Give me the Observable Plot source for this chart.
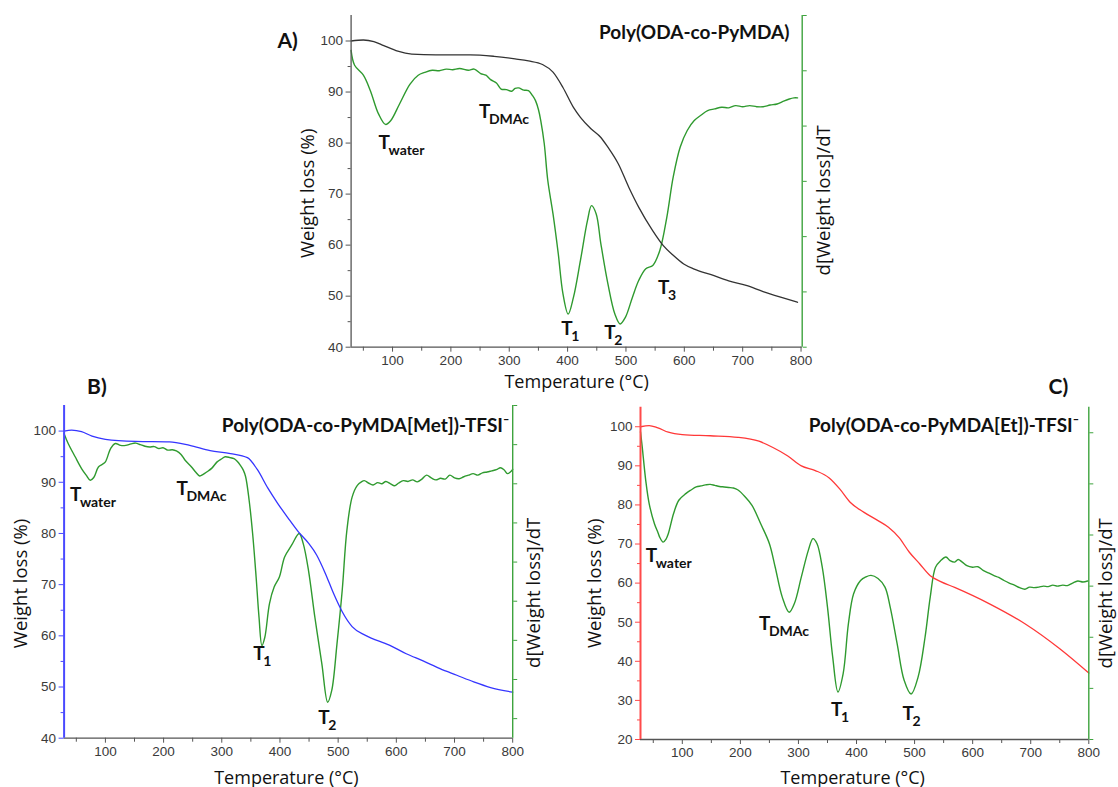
<!DOCTYPE html>
<html><head><meta charset="utf-8">
<script src="https://cdn.jsdelivr.net/npm/d3@7"></script>
<script src="https://cdn.jsdelivr.net/npm/@observablehq/plot@0.6"></script>
<style>
body{margin:0;background:#fff}
#root{position:relative;width:1118px;height:787px;overflow:hidden;background:#fff}
.panel{position:absolute}
</style>
</head><body><div id="root"></div>
<script>
// ---------- shared ticks ----------
const tempTicks = [100, 200, 300, 400, 500, 600, 700, 800];
const tempMinor = [50, 150, 250, 350, 450, 550, 650, 750];
const yTicksAB = [40, 50, 60, 70, 80, 90, 100];
const yMinorAB = [45, 55, 65, 75, 85, 95];
const yTicksC = [20, 30, 40, 50, 60, 70, 80, 90, 100];
const yMinorC = [25, 35, 45, 55, 65, 75, 85, 95];

// ---------- Panel A: Poly(ODA-co-PyMDA) ----------
const aWeightT = [29,50,68,85,109,133,174,233,274,310,333,357,375,392,410,422,440,457,469,487,505,522,546,564,581,599,617,646,676,706,735,765,794];
const aWeightV = [100,100.2,99.9,99.1,98.0,97.45,97.3,97.3,97.0,96.5,96.1,95.4,93.9,90.9,87.0,85.05,82.8,81.1,79.2,75.9,71.3,67.4,62.8,59.9,58.0,56.3,55.3,54.2,53.0,52.1,50.9,49.8,48.8];
const aDerivT = [29,35,50,62,76,88,97,112,130,144,155,168,180,192,203,215,230,240,251,260,268,278,286,295,304,310,316,325,333,340,345,350,354,360,366,375,384,392,401,410,422,434,441,449,457,469,481,490,499,511,522,534,546,558,570,581,593,605,617,629,640,652,664,676,688,700,712,724,735,747,759,770,780,788,794];
const aDerivV = [5.37,5.10,4.92,4.64,4.22,4.03,4.10,4.40,4.76,4.92,4.97,5.01,5.00,5.03,5.02,5.04,5.01,5.03,4.95,4.92,4.84,4.78,4.67,4.66,4.63,4.68,4.69,4.65,4.64,4.55,4.46,4.30,4.10,3.68,3.02,2.41,1.69,0.97,0.60,0.90,1.57,2.29,2.56,2.41,1.87,1.15,0.60,0.42,0.54,0.90,1.21,1.42,1.48,1.75,2.35,3.08,3.62,3.92,4.10,4.20,4.28,4.31,4.34,4.33,4.37,4.35,4.37,4.35,4.35,4.38,4.40,4.45,4.49,4.51,4.51];
const aDerivTicks = [0,1,2,3,4,5,6];
const aNoteT = [76, 248, 389, 463, 555];
const aNoteW = [78.8, 85.0, 42.3, 41.6, 50.4];
const aNoteSub = ["water", "DMAc", "1", "2", "3"];

// ---------- Panel B: Poly(ODA-co-PyMDA[Met])-TFSI- ----------
const bWeightT = [29,42,59,77,100,152,210,245,280,315,344,361,379,396,414,431,449,463,478,492,507,524,547,588,617,646,675,704,733,762,800];
const bWeightV = [100,100.2,99.9,99.0,98.4,98.0,97.9,97.2,96.2,95.6,94.8,92.5,88.9,85.9,83.0,80.4,78.1,75.8,72.2,68.3,64.7,61.8,60.1,58.2,56.5,55.1,53.6,52.3,51.0,49.9,49.0];
const bDerivT = [29,36,48,59,67,74,80,88,95,100,109,117,126,135,144,152,160,168,176,184,192,199,207,215,222,230,237,248,255,262,268,274,283,292,300,306,314,321,326,332,337,341,347,353,359,364,369,374,382,390,399,408,420,433,440,449,460,472,482,489,498,507,515,524,533,540,545,552,560,568,575,582,590,597,604,612,620,628,636,644,652,660,668,676,684,692,700,708,716,724,732,740,748,756,764,772,779,785,791,796,800];
const bDerivV = [7.28,7.03,6.69,6.39,6.22,6.09,6.16,6.43,6.50,6.56,6.90,7.03,6.98,6.98,7.02,7.04,7.00,6.96,6.94,6.95,6.90,6.92,6.86,6.87,6.84,6.75,6.60,6.43,6.30,6.20,6.24,6.30,6.40,6.56,6.64,6.69,6.67,6.64,6.58,6.47,6.35,6.18,5.58,4.73,3.62,2.59,1.87,2.08,2.94,3.36,3.62,4.13,4.43,4.73,4.47,3.79,2.59,1.40,0.42,0.72,1.91,3.28,4.81,5.66,5.96,6.05,6.08,6.02,5.97,6.03,6.00,6.06,6.00,5.95,6.02,6.08,6.06,6.10,6.05,6.12,6.22,6.15,6.10,6.14,6.12,6.22,6.15,6.13,6.18,6.22,6.26,6.22,6.28,6.30,6.33,6.36,6.41,6.36,6.26,6.30,6.37];
const bDerivTicks = [0,1,2,3,4,5,6,7,8];
const bNoteT = [39, 222, 354, 466];
const bNoteW = [86.3, 87.6, 55.2, 42.8];
const bNoteSub = ["water", "DMAc", "1", "2"];

// ---------- Panel C: Poly(ODA-co-PyMDA[Et])-TFSI- ----------
const cWeightT = [28,43,58,76,100,148,196,232,256,281,305,329,353,371,389,413,437,455,473,491,509,527,545,569,629,690,750,800];
const cWeightV = [100,100.3,99.7,98.6,98.0,97.7,97.3,96.3,94.7,92.6,90.0,88.8,86.9,84.1,80.7,78.1,76.0,74.3,71.7,67.9,64.9,61.9,60.4,58.9,54.7,49.6,43.2,37.0];
const cDerivT = [28,31,37,43,52,58,61,67,72,76,85,94,106,115,124,132,140,148,156,164,172,180,188,196,208,220,235,250,260,272,284,293,305,317,325,332,341,350,359,368,377,386,395,407,416,425,437,449,458,470,482,494,506,518,527,536,545,554,561,569,575,582,590,600,609,618,627,636,645,654,663,672,681,690,698,706,714,722,730,738,746,755,763,772,781,790,798];
const cDerivV = [6.02,5.72,5.07,4.61,4.22,4.05,3.96,3.86,3.92,4.03,4.42,4.68,4.81,4.88,4.94,4.96,4.98,4.99,4.97,4.95,4.94,4.93,4.92,4.88,4.75,4.58,4.22,3.83,3.37,2.79,2.49,2.66,3.18,3.70,3.93,3.83,3.37,2.59,1.61,0.93,1.29,2.26,2.85,3.11,3.18,3.21,3.15,2.98,2.59,1.87,1.16,0.89,1.22,2.00,2.79,3.37,3.50,3.57,3.50,3.47,3.52,3.47,3.40,3.37,3.38,3.31,3.26,3.21,3.17,3.11,3.06,3.02,2.97,2.94,2.98,2.97,2.98,3.00,2.99,3.02,3.00,3.02,3.01,3.06,3.10,3.08,3.10];
const cDerivTicks = [0,1,2,3,4,5,6];
const cNoteT = [37, 232, 356, 479];
const cNoteW = [65.3, 48.0, 26.1, 24.9];
const cNoteSub = ["water", "DMAc", "1", "2"];

const GREEN = "#2f9a2f";
const AXISGREEN = "#3ea33e";
const LABELFONT = "'Open Sans', 'DejaVu Sans', sans-serif";
const BOLDFONT = "Lato, 'Open Sans', sans-serif";

function panel(p) {
  const [y0, y1] = p.yDomain, [r0, r1] = p.rDomain;
  const toY = r => y0 + (r - r0) / (r1 - r0) * (y1 - y0);
  const weight = p.weightT.map((t, i) => ({t, v: p.weightV[i]}));
  const deriv = p.derivT.map((t, i) => ({t, v: toY(p.derivV[i])}));
  const notes = p.noteT.map((t, i) => ({t, w: p.noteW[i], sub: p.noteSub[i]}));
  const txt = d => d;
  const chart = Plot.plot({
    width: p.width, height: p.height,
    marginLeft: p.mL, marginRight: p.mR, marginTop: p.mT, marginBottom: p.mB,
    x: {domain: p.xDomain, axis: null},
    y: {domain: p.yDomain, axis: null},
    style: {fontFamily: "'Liberation Sans', Arial, sans-serif", fontSize: "13.5px", color: "#333", background: "transparent", overflow: "visible"},
    marks: [
      Plot.line(deriv, {x: "t", y: "v", stroke: GREEN, strokeWidth: 1.4, curve: "catmull-rom"}),
      Plot.line(weight, {x: "t", y: "v", stroke: p.weightColor, strokeWidth: 1.3, curve: "monotone-x"}),
      Plot.axisX({ticks: tempTicks, tickSize: 5, tickPadding: 3, stroke: "#555", fill: "#3a3a3a", label: null}),
      Plot.axisX({ticks: tempMinor, tickSize: 4, tickFormat: () => "", stroke: "#555", label: null}),
      Plot.axisY({ticks: p.yTicks, tickSize: 5, tickPadding: 3, stroke: p.axisColor, fill: "#3a3a3a", label: null}),
      Plot.axisY({ticks: p.yMinor, tickSize: 3, tickFormat: () => "", stroke: p.axisColor, label: null}),
      Plot.axisY({ticks: p.rTicks.map(toY), anchor: "right", tickSize: 4, tickFormat: () => "", stroke: AXISGREEN, label: null}),
      Plot.ruleY([y0], {stroke: "#555", strokeWidth: 1.3}),
      Plot.ruleX([p.xDomain[0]], {stroke: p.axisColor, strokeWidth: p.axisWidth}),
      Plot.ruleX([p.xDomain[1]], {stroke: AXISGREEN, strokeWidth: 1.4}),
      Plot.text(notes, {x: "t", y: "w", text: () => "T", textAnchor: "start", lineAnchor: "bottom", fontSize: 19, fontWeight: "bold", fontFamily: BOLDFONT, fill: "#111"}),
      Plot.text(notes, {x: "t", y: "w", text: "sub", textAnchor: "start", lineAnchor: "bottom", dx: 10, dy: 6, fontSize: 14, fontWeight: "bold", fontFamily: BOLDFONT, fill: "#111"}),
      Plot.text([p.title], {text: txt, frameAnchor: "top-right", textAnchor: "end", lineAnchor: "bottom", dx: p.titleDx, dy: p.titleDy, fontSize: 19, fontWeight: "bold", fontFamily: BOLDFONT, fill: "#111"}),
      Plot.text([p.letter], {text: txt, frameAnchor: "top-left", textAnchor: "start", lineAnchor: "bottom", dx: p.letterDx, dy: p.letterDy, fontSize: 21, fontWeight: "bold", fontFamily: BOLDFONT, fill: "#111"}),
      Plot.text(["Weight loss (%)"], {text: txt, frameAnchor: "left", textAnchor: "middle", lineAnchor: "middle", rotate: -90, dx: p.ylDx, dy: p.ylDy, fontSize: 18.5, fontFamily: LABELFONT, fill: "#111"}),
      Plot.text(["Temperature (°C)"], {text: txt, frameAnchor: "bottom", textAnchor: "middle", lineAnchor: "bottom", dx: p.xlDx, dy: p.xlDy, fontSize: 18, fontFamily: LABELFONT, fill: "#111"}),
      Plot.text(["d[Weight loss]/dT"], {text: txt, frameAnchor: "right", textAnchor: "middle", lineAnchor: "middle", rotate: -90, dx: p.rlDx, dy: p.rlDy, fontSize: 18.5, fontFamily: LABELFONT, fill: "#111"})
    ]
  });
  chart.classList.add("panel");
  chart.style.left = p.left + "px";
  chart.style.top = p.top + "px";
  document.getElementById("root").appendChild(chart);
}

panel({
  left: 260, top: 0, width: 600, height: 395, mL: 90.6, mR: 58.3, mT: 15, mB: 48.3,
  xDomain: [29, 802], yDomain: [40, 105], rDomain: [0, 6],
  yTicks: yTicksAB, yMinor: yMinorAB, rTicks: aDerivTicks,
  weightT: aWeightT, weightV: aWeightV, derivT: aDerivT, derivV: aDerivV,
  noteT: aNoteT, noteW: aNoteW, noteSub: aNoteSub,
  weightColor: "#333", axisColor: "#555", axisWidth: 1.3,
  title: "Poly(ODA-co-PyMDA)", titleDx: -12.7, titleDy: 23.3,
  letter: "A)", letterDx: -73.6, letterDy: 32,
  ylDx: -43, ylDy: 12, xlDx: 0, xlDy: 41, rlDx: 22.3, rlDy: 19
});

panel({
  left: 0, top: 365, width: 560, height: 422, mL: 63.6, mR: 47.8, mT: 40, mB: 49.3,
  xDomain: [29, 800], yDomain: [40, 105], rDomain: [-0.5, 8],
  yTicks: yTicksAB, yMinor: yMinorAB, rTicks: bDerivTicks,
  weightT: bWeightT, weightV: bWeightV, derivT: bDerivT, derivV: bDerivV,
  noteT: bNoteT, noteW: bNoteW, noteSub: bNoteSub,
  weightColor: "#3535ff", axisColor: "#4a4aff", axisWidth: 2,
  title: "Poly(ODA-co-PyMDA[Met])-TFSI\u207B", titleDx: -3.4, titleDy: 26.7,
  letter: "B)", letterDx: 23, letterDy: -12,
  ylDx: -43.3, ylDy: 11.6, xlDx: -2, xlDy: 45.3, rlDx: 21.8, rlDy: 21
});

panel({
  left: 570, top: 365, width: 548, height: 422, mL: 70, mR: 29.7, mT: 41.7, mB: 48,
  xDomain: [28, 800], yDomain: [20, 105], rDomain: [0, 6.5],
  yTicks: yTicksC, yMinor: yMinorC, rTicks: cDerivTicks,
  weightT: cWeightT, weightV: cWeightV, derivT: cDerivT, derivV: cDerivV,
  noteT: cNoteT, noteW: cNoteW, noteSub: cNoteSub,
  weightColor: "#ff3838", axisColor: "#ff4a4a", axisWidth: 2,
  title: "Poly(ODA-co-PyMDA[Et])-TFSI\u207B", titleDx: -9.7, titleDy: 25,
  letter: "C)", letterDx: 408, letterDy: -13.7,
  ylDx: -45.5, ylDy: 10, xlDx: -12, xlDy: 44, rlDx: 17, rlDy: 20
});
</script>
</body></html>
